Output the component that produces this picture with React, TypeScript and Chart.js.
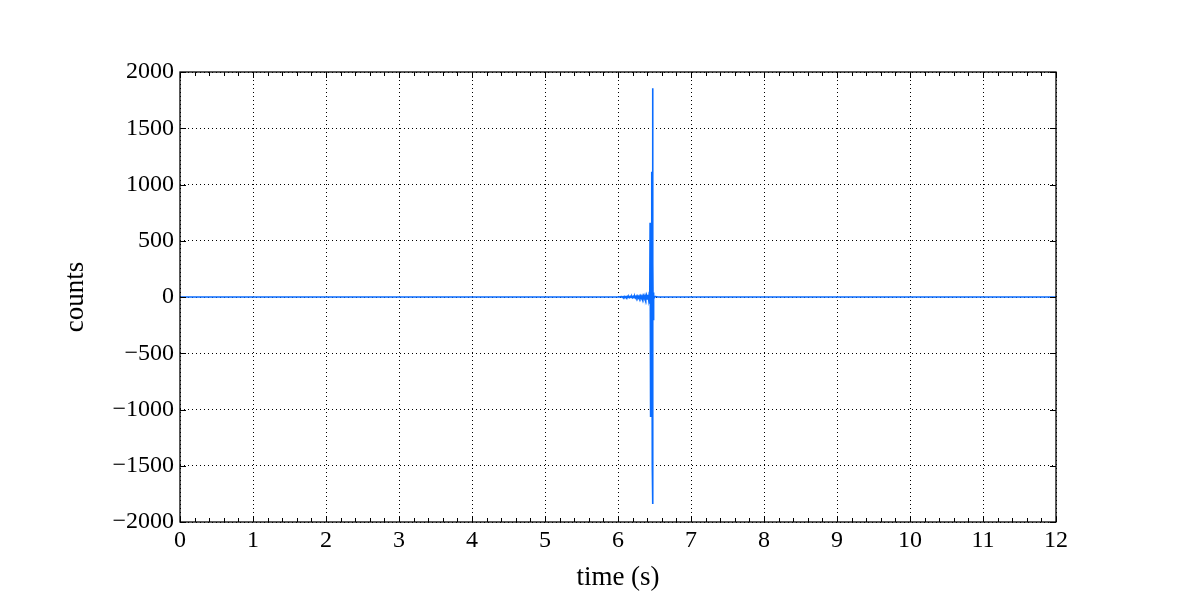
import React, { useEffect, useRef } from "react";
import { Chart, registerables } from "chart.js";

Chart.register(...registerables);

const times: number[] = [
  0, 2, 4, 6.0, 6.05, 6.06, 6.07, 6.08, 6.09, 6.1, 6.11, 6.12, 6.13, 6.14, 6.15, 6.16, 6.17, 6.18, 6.19, 6.2,
  6.21, 6.22, 6.23, 6.24, 6.25, 6.26, 6.27, 6.28, 6.29, 6.3, 6.31, 6.32, 6.33, 6.34, 6.35, 6.36, 6.37, 6.38,
  6.39, 6.4, 6.41, 6.42, 6.43, 6.435, 6.44, 6.443, 6.447, 6.45, 6.455, 6.46, 6.465, 6.47, 6.473, 6.476,
  6.479, 6.482, 6.486, 6.49, 6.5, 6.55, 8, 10, 12,
];
const counts: number[] = [
  0, 0, 0, 0, 3, -3, 3, -4, 4, -4, 4, -4, 5, -5, 5, -5, 5, -5, 6, -6,
  6, -6, 7, -7, 7, -7, 8, -8, 8, -9, 9, -10, 10, -11, 11, -12, 13, -14,
  15, -17, 20, -24, 45, -60, 660, -1067, 110, -140, 90, -110, 1114, -1500, 1855, -1840,
  300, -200, 40, -20, 5, 0, 0, 0, 0,
];
const xTicks: number[] = [0, 1, 2, 3, 4, 5, 6, 7, 8, 9, 10, 11, 12];
const yTicks: number[] = [-2000, -1500, -1000, -500, 0, 500, 1000, 1500, 2000];

const FONT = "'Liberation Serif', 'DejaVu Serif', serif";

const framePlugin = {
  id: "frame",
  afterDraw(chart: any) {
    const { ctx, chartArea: a, scales } = chart;
    ctx.save();
    ctx.strokeStyle = "#000";
    ctx.lineWidth = 1;
    ctx.beginPath();
    for (let i = 0; i <= 60; i++) {
      const v = i * 0.2;
      const px = Math.round(scales.x.getPixelForValue(v)) + 0.5;
      const len = i % 5 === 0 ? 6 : 4;
      ctx.moveTo(px, a.bottom);
      ctx.lineTo(px, a.bottom - len);
      ctx.moveTo(px, a.top);
      ctx.lineTo(px, a.top + len);
    }
    for (const v of yTicks) {
      const py = Math.round(scales.y.getPixelForValue(v)) + 0.5;
      ctx.moveTo(a.left, py);
      ctx.lineTo(a.left + 6, py);
      ctx.moveTo(a.right, py);
      ctx.lineTo(a.right - 6, py);
    }
    ctx.stroke();
    ctx.lineWidth = 1.3;
    ctx.strokeRect(a.left, a.top, a.right - a.left, a.bottom - a.top);
    ctx.restore();
  },
};

export default function App() {
  const ref = useRef<HTMLCanvasElement>(null);
  useEffect(() => {
    document.body.style.margin = "0";
    const data = times.map((t, i) => ({ x: t, y: counts[i] }));
    const chart = new Chart(ref.current!, {
      type: "line",
      data: {
        datasets: [
          {
            data,
            borderColor: "#0a6cff",
            borderWidth: 1.6,
            pointRadius: 0,
            tension: 0,
            fill: false,
          },
        ],
      },
      options: {
        animation: false,
        responsive: false,
        events: [],
        layout: { padding: { top: 72, right: 144, left: 0, bottom: 0 } },
        plugins: { legend: { display: false }, tooltip: { enabled: false } },
        scales: {
          x: {
            type: "linear",
            min: 0,
            max: 12,
            afterBuildTicks: (s: any) => {
              s.ticks = xTicks.map((v) => ({ value: v }));
            },
            afterFit: (s: any) => {
              s.height = 78;
            },
            ticks: {
              font: { family: FONT, size: 24 },
              color: "#000",
              padding: 4,
              maxRotation: 0,
            },
            grid: { color: "#000", lineWidth: 1, drawTicks: false },
            border: { display: false, dash: [1, 3] },
            title: {
              display: true,
              text: "time (s)",
              font: { family: FONT, size: 27 },
              color: "#000",
              padding: { top: 0, bottom: 6 },
            },
          },
          y: {
            type: "linear",
            min: -2000,
            max: 2000,
            afterBuildTicks: (s: any) => {
              s.ticks = yTicks.map((v) => ({ value: v }));
            },
            afterFit: (s: any) => {
              s.width = 180;
            },
            ticks: {
              font: { family: FONT, size: 24 },
              color: "#000",
              padding: 6,
              callback: (v: any) => (Number(v) < 0 ? "\u2212" + Math.abs(Number(v)) : String(v)),
            },
            grid: { color: "#000", lineWidth: 1, drawTicks: false },
            border: { display: false, dash: [1, 3] },
            title: {
              display: true,
              text: "counts",
              font: { family: FONT, size: 27 },
              color: "#000",
              padding: { top: 60, bottom: 0 },
            },
          },
        },
      },
      plugins: [framePlugin],
    });
    return () => chart.destroy();
  }, []);
  return (
    <div style={{ position: "absolute", left: 0, top: 0, width: 1200, height: 600, background: "#fff" }}>
      <canvas ref={ref} width={1200} height={600} style={{ width: 1200, height: 600 }} />
    </div>
  );
}
